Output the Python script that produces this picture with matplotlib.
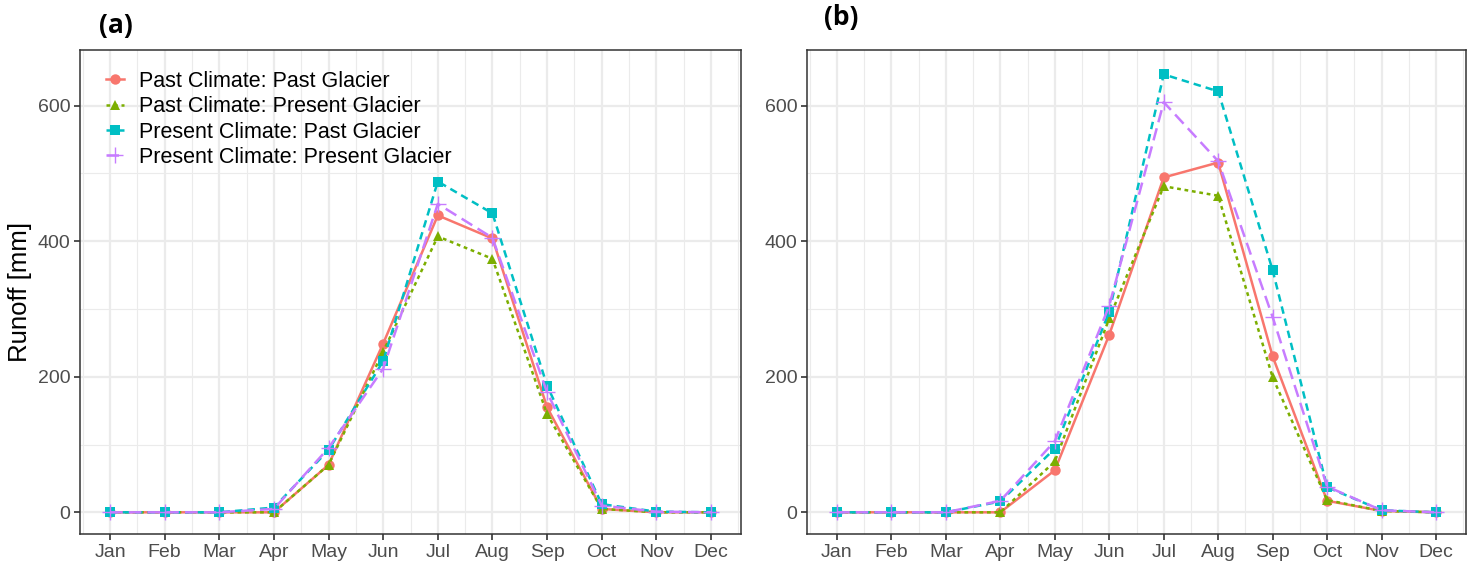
import matplotlib
matplotlib.use('Agg')
import matplotlib.pyplot as plt
import numpy as np
from matplotlib.ticker import MultipleLocator

plt.rcParams['font.family'] = ['Liberation Sans', 'DejaVu Sans']

months = ['Jan', 'Feb', 'Mar', 'Apr', 'May', 'Jun', 'Jul', 'Aug', 'Sep', 'Oct', 'Nov', 'Dec']
labels = ['Past Climate: Past Glacier', 'Past Climate: Present Glacier',
          'Present Climate: Past Glacier', 'Present Climate: Present Glacier']

# panel (a)
a_past_past = [0, 0, 0, 0, 70, 249, 438, 404, 155, 5, 0, 0]
a_past_pres = [0, 0, 0, 0, 70, 237, 407, 374, 145, 5, 0, 0]
a_pres_past = [0, 0, 0, 7, 92, 223, 488, 441, 187, 12, 1, 0]
a_pres_pres = [0, 0, 0, 5, 95, 212, 455, 405, 177, 10, 1, 0]

# panel (b)
b_past_past = [0, 0, 0, 0, 62, 262, 494, 516, 230, 17, 2, 0]
b_past_pres = [0, 0, 0, 0, 75, 286, 481, 467, 199, 18, 2, 0]
b_pres_past = [0, 0, 0, 16, 94, 296, 646, 621, 357, 37, 3, 0]
b_pres_pres = [0, 0, 0, 17, 105, 305, 605, 518, 288, 38, 3, 0]

colors = ['#F8766D', '#7CAE00', '#00BFC4', '#C77CFF']
styles = ['-', (0, (1.5, 1.5)), (0, (3, 2)), (0, (5, 2.5))]
markers = ['o', '^', 's', '+']

fig = plt.figure(figsize=(14.69, 5.69), dpi=100)
ax1 = fig.add_axes([80 / 1469, 1 - 534 / 569, 661 / 1469, 484 / 569])
ax2 = fig.add_axes([807 / 1469, 1 - 534 / 569, 659 / 1469, 484 / 569])

x = np.arange(1, 13)
panels = [(ax1, [a_past_past, a_past_pres, a_pres_past, a_pres_pres]),
          (ax2, [b_past_past, b_past_pres, b_pres_past, b_pres_pres])]

for ax, series in panels:
    for i, ys in enumerate(series):
        ms = 11 if markers[i] == '+' else 7.5
        ax.plot(x, ys, color=colors[i], linestyle=styles[i], linewidth=1.8,
                marker=markers[i], markersize=ms, markeredgewidth=1.0 if markers[i] == '+' else 0,
                label=labels[i], zorder=3)
    ax.set_xlim(0.45, 12.55)
    ax.set_ylim(-32, 682)
    ax.set_xticks(x)
    ax.set_xticklabels(months)
    ax.xaxis.set_minor_locator(MultipleLocator(0.5))
    ax.yaxis.set_major_locator(MultipleLocator(200))
    ax.yaxis.set_minor_locator(MultipleLocator(100))
    ax.grid(which='major', color='#EBEBEB', linewidth=1.6, zorder=0)
    ax.grid(which='minor', color='#EBEBEB', linewidth=0.8, zorder=0)
    ax.set_axisbelow(True)
    ax.tick_params(which='minor', length=0)
    ax.tick_params(which='major', length=4, width=1.2, color='#333333',
                   labelcolor='#4D4D4D', labelsize=14, pad=3)
    for sp in ax.spines.values():
        sp.set_color('#333333')
        sp.set_linewidth(1.1)

ax1.set_ylabel('Runoff [mm]', fontsize=18.5, color='black', labelpad=4)
leg = ax1.legend(loc='upper left', bbox_to_anchor=(106 / 1469, 1 - 71 / 569),
                 bbox_transform=fig.transFigure, frameon=False,
                 fontsize=15.5, handlelength=0.85, labelspacing=0.2,
                 handletextpad=0.7, borderaxespad=0, borderpad=0)

fig.text(116 / 1469, 1 - 26 / 569, '(a)', fontsize=19, fontweight='bold',
         family=['Open Sans', 'DejaVu Sans'], ha='center', va='center')
fig.text(841 / 1469, 1 - 17 / 569, '(b)', fontsize=19, fontweight='bold',
         family=['Open Sans', 'DejaVu Sans'], ha='center', va='center')

fig.savefig('out.png', dpi=100)
